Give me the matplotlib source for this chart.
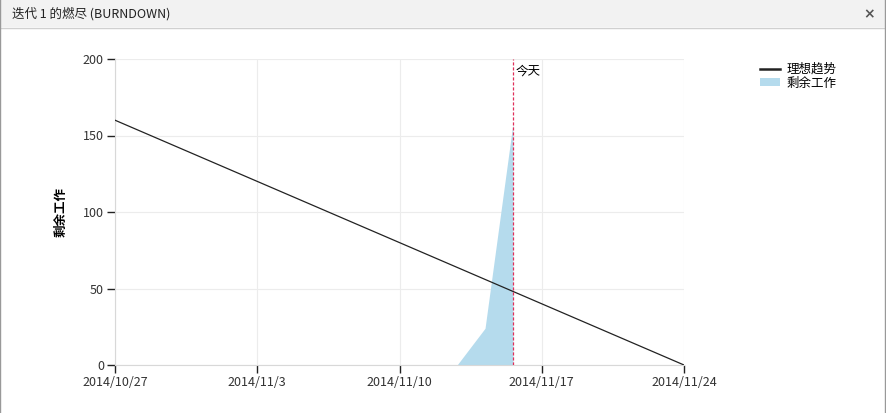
import matplotlib.pyplot as plt
import matplotlib.dates as mdates
from matplotlib.patches import Rectangle, Patch
from matplotlib.lines import Line2D
from datetime import datetime

plt.rcParams['font.family'] = ['Noto Sans CJK SC', 'DejaVu Sans']

# data
ideal_dates = [datetime(2014, 10, 27), datetime(2014, 11, 24)]
ideal_values = [160, 0]
work_dates = [datetime(2014, 11, 12, 20), datetime(2014, 11, 14, 5), datetime(2014, 11, 15, 14)]
work_values = [0, 24, 158]
today = datetime(2014, 11, 15, 14)
tick_dates = [datetime(2014, 10, 27), datetime(2014, 11, 3), datetime(2014, 11, 10),
              datetime(2014, 11, 17), datetime(2014, 11, 24)]
tick_labels = ['2014/10/27', '2014/11/3', '2014/11/10', '2014/11/17', '2014/11/24']
y_ticks = [0, 50, 100, 150, 200]

fig = plt.figure(figsize=(8.87, 4.13), dpi=100)
fig.patch.set_facecolor('white')

# dialog title bar
fig.patches.append(Rectangle((0, 1 - 27 / 413), 1, 27 / 413, transform=fig.transFigure,
                             facecolor='#f2f2f2', edgecolor='none', zorder=0))
fig.lines.append(Line2D([0, 1], [1 - 27.5 / 413] * 2, transform=fig.transFigure,
                        color='#d0d0d0', lw=1))
fig.lines.append(Line2D([0.5 / 887] * 2, [0, 1], transform=fig.transFigure, color='#999999', lw=1))
fig.lines.append(Line2D([1 - 1.5 / 887] * 2, [0, 1], transform=fig.transFigure, color='#999999', lw=1))
fig.text(12 / 887, 1 - 14 / 413, '迭代 1 的燃尽 (BURNDOWN)', fontsize=9, va='center', ha='left',
         color='#222222')
fig.text(869 / 887, 1 - 14 / 413, '×', fontsize=10, va='center', ha='center', color='#555555',
         fontweight='bold', family=['DejaVu Sans'])

ax = fig.add_axes([115 / 887, 1 - 365 / 413, (684 - 115) / 887, (365 - 59) / 413])

ax.fill_between(work_dates, work_values, 0, color='#b5dbed', lw=0, zorder=2)
ax.plot(ideal_dates, ideal_values, color='#222222', lw=0.9, zorder=3)
ax.axvline(today, color='#e0305a', lw=0.9, ls=(0, (2.5, 1.5)), zorder=4)
ax.text(mdates.date2num(today) + 0.12, 196, '今天', fontsize=9, va='top', ha='left')

ax.set_xlim(ideal_dates[0], ideal_dates[1])
ax.set_ylim(0, 200)
ax.set_xticks(tick_dates)
ax.set_xticklabels(tick_labels)
ax.set_yticks(y_ticks)
ax.grid(True, color='#ececec', lw=0.8)
ax.set_axisbelow(True)
for s in ['top', 'right']:
    ax.spines[s].set_visible(False)
for s in ['left', 'bottom']:
    ax.spines[s].set_color('#d8d8d8')
ax.tick_params(direction='out', length=6, width=1, color='#222222', labelsize=9,
               labelcolor='#333333', pad=2)
ax.set_ylabel('剩余工作', fontsize=9, fontweight='bold', labelpad=11)

handles = [Line2D([], [], color='#222222', lw=1.8), Patch(facecolor='#b5dbed', edgecolor='none')]
leg = fig.legend(handles, ['理想趋势', '剩余工作'], loc='upper left',
                 bbox_to_anchor=(755 / 887, 1 - 58 / 413), frameon=False,
                 fontsize=9, handlelength=1.6, handleheight=0.6, labelspacing=0.05,
                 handletextpad=0.5, borderaxespad=0)

fig.savefig('out.png', dpi=100)
